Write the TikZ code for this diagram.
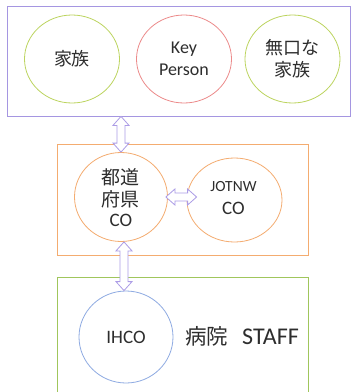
\documentclass[tikz,border=0pt]{standalone}
\usepackage{fontspec}
\setmainfont{Carlito}
\newfontfamily\jp{Noto Sans CJK JP}
\usetikzlibrary{shapes.geometric,calc}
\definecolor{boxpurple}{RGB}{165,150,225}
\definecolor{ygreen}{RGB}{188,212,95}
\definecolor{kpred}{RGB}{236,138,138}
\definecolor{orng}{RGB}{244,172,112}
\definecolor{bgreen}{RGB}{160,198,92}
\definecolor{ihblue}{RGB}{142,170,226}
\definecolor{arrowc}{RGB}{172,156,230}
\definecolor{txt}{RGB}{45,45,45}
\tikzset{
  panel/.style={draw=#1, line width=0.8pt, rectangle, inner sep=0pt},
  ring/.style={draw=#1, line width=0.8pt, ellipse, inner sep=0pt, text=txt, align=center},
  lbl/.style={text=txt, inner sep=0pt},
  hollow/.style={draw=arrowc, fill=white, line width=0.8pt, line join=miter},
}
% hollow double arrow between two named coordinates
\newcommand\hollowarrow[2]{%
  \draw[hollow] (#1)
    -- ($(#1)!9pt!(#2)!8pt!90:(#2)$)
    -- ($(#1)!9pt!(#2)!4pt!90:(#2)$)
    -- ($(#2)!9pt!(#1)!4pt!-90:(#1)$)
    -- ($(#2)!9pt!(#1)!8pt!-90:(#1)$)
    -- (#2)
    -- ($(#2)!9pt!(#1)!8pt!90:(#1)$)
    -- ($(#2)!9pt!(#1)!4pt!90:(#1)$)
    -- ($(#1)!9pt!(#2)!4pt!-90:(#2)$)
    -- ($(#1)!9pt!(#2)!8pt!-90:(#2)$)
    -- cycle;}
\begin{document}
\begin{tikzpicture}[x=1pt,y=-1pt]
\useasboundingbox (0,0) rectangle (354,392);
\fill[white] (0,0) rectangle (354,392);
% panels
\node[panel=boxpurple, minimum width=343pt, minimum height=110pt] (topbox) at (178.5,61) {};
\node[panel=orng, minimum width=251pt, minimum height=111pt] (midbox) at (182.5,199.5) {};
\node[panel=bgreen, minimum width=251pt, minimum height=117pt] (botbox) at (182.5,335.5) {};
% circles
\node[ring=ygreen, minimum width=95pt, minimum height=88pt, font=\jp\fontsize{18}{22}\selectfont] (kazoku) at (72,59) {家族};
\node[ring=kpred, minimum width=95pt, minimum height=88pt, font=\fontsize{18}{22}\selectfont] (key) at (184,59) {Key\\Person};
\node[ring=ygreen, minimum width=95pt, minimum height=88pt, font=\jp\fontsize{18}{22}\selectfont] (mukuchi) at (292.5,59) {無口な\\家族};
\node[ring=orng, minimum width=93pt, minimum height=89pt] (ken) at (121,197) {};
\node[lbl, font=\jp\fontsize{19}{22}\selectfont] (ken1) at (121,177) {都道};
\node[lbl, font=\jp\fontsize{19}{22}\selectfont] (ken2) at (121,199) {府県};
\node[lbl, font=\fontsize{19}{22}\selectfont] (ken3) at (121,220) {CO};
\node[ring=orng, minimum width=95pt, minimum height=84pt] (jot) at (234.5,200) {};
\node[lbl, font=\fontsize{15.5}{18}\selectfont] (jot1) at (233.5,187) {JOTNW};
\node[lbl, font=\fontsize{19}{22}\selectfont] (jot2) at (233.5,208) {CO};
\node[ring=ihblue, minimum width=94pt, minimum height=92pt, font=\fontsize{19}{22}\selectfont] (ihco) at (126,337) {IHCO};
\node[lbl, anchor=west] (staff) at (185,336) {{\jp\fontsize{21.5}{24}\selectfont 病院}\hspace{14pt}{\fontsize{24}{26}\selectfont STAFF}};
% arrow end points
\coordinate (a1s) at (ken.north |- topbox.south);
\coordinate (a1e) at (ken.north);
\coordinate (a2s) at ([xshift=-2pt]ken.east);
\coordinate (a2e) at ([xshift=10pt]ken.east -| jot.west);
\coordinate (a3s) at ([xshift=-2pt]ihco.north |- ken.south);
\coordinate (a3e) at ([xshift=-2pt]ihco.north);
\hollowarrow{a1s}{a1e}
\hollowarrow{a2s}{a2e}
\hollowarrow{a3s}{a3e}
\end{tikzpicture}
\end{document}
